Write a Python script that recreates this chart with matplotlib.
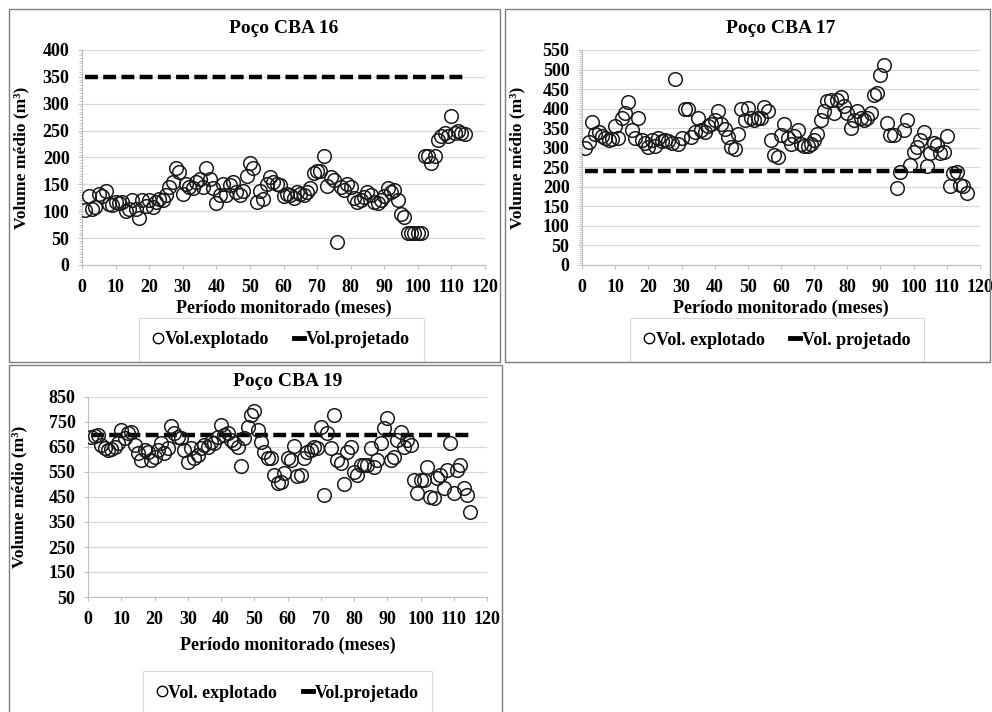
import numpy as np
import matplotlib
matplotlib.use("Agg")
import matplotlib.pyplot as plt
from matplotlib.lines import Line2D
from matplotlib.patches import Rectangle
from matplotlib.ticker import MultipleLocator, AutoMinorLocator

plt.rcParams['font.family'] = ['Liberation Serif', 'DejaVu Serif']
plt.rcParams['font.weight'] = 'bold'
plt.rcParams['axes.labelweight'] = 'bold'
plt.rcParams['axes.titleweight'] = 'bold'

# volumes (m3) read month by month
vol_16 = [103, 128, 105, 108, 133, 128, 138, 113, 112, 117,
          115, 118, 100, 104, 120, 104, 88, 120, 110, 120,
          108, 118, 122, 120, 130, 145, 155, 180, 173, 132,
          150, 145, 143, 155, 160, 145, 180, 160, 143, 115,
          130, 150, 130, 148, 155, 135, 130, 137, 165, 190,
          180, 118, 137, 123, 150, 163, 155, 150, 148, 128,
          132, 130, 125, 135, 133, 130, 135, 143, 172, 175,
          175, 202, 147, 163, 158, 42, 145, 140, 150, 145,
          125, 118, 120, 127, 135, 130, 118, 115, 120, 128,
          143, 135, 140, 120, 95, 90, 60, 60, 60, 60,
          60, 203, 203, 190, 203, 232, 240, 245, 240, 277,
          245, 250, 245, 243]
vol_17 = [300, 315, 365, 335, 340, 330, 325, 320, 322, 355,
          325, 375, 390, 418, 345, 325, 375, 320, 312, 302,
          320, 305, 325, 318, 320, 318, 312, 475, 310, 325,
          400, 400, 328, 340, 375, 345, 340, 355, 360, 372,
          393, 360, 348, 328, 302, 298, 335, 400, 370, 402,
          375, 372, 375, 375, 405, 395, 320, 282, 275, 333,
          360, 325, 310, 330, 346, 310, 305, 305, 310, 320,
          335, 372, 393, 420, 423, 389, 423, 430, 406, 389,
          350, 372, 393, 376, 372, 376, 389, 436, 440, 487,
          512, 363, 333, 333, 197, 239, 346, 372, 256, 290,
          303, 320, 341, 252, 286, 312, 308, 286, 290, 329,
          201, 235, 239, 205, 201, 184]
vol_19 = [690, 695, 700, 660, 645, 638, 643, 652, 665, 720,
          685, 705, 712, 658, 625, 598, 638, 632, 598, 612,
          640, 665, 625, 645, 733, 705, 692, 685, 638, 592,
          645, 605, 618, 645, 658, 652, 672, 665, 692, 738,
          698, 705, 678, 665, 652, 575, 685, 732, 778, 792,
          718, 672, 632, 605, 605, 538, 505, 512, 545, 605,
          600, 653, 533, 540, 605, 632, 638, 652, 645, 732,
          458, 705, 645, 778, 600, 587, 503, 632, 652, 552,
          538, 578, 578, 578, 645, 572, 600, 665, 725, 765,
          600, 612, 678, 712, 652, 678, 658, 518, 465, 518,
          518, 572, 452, 445, 525, 538, 485, 558, 665, 465,
          558, 578, 485, 458, 392]

proj_16 = 350
proj_17 = 240
proj_19 = 700

yticks_16 = np.arange(0, 401, 50)
yticks_17 = np.arange(0, 551, 50)
yticks_19 = np.arange(50, 851, 100)

W, H = 992, 712
fig = plt.figure(figsize=(W / 100, H / 100), dpi=100)
fig.patch.set_facecolor('white')


def px_box(l, t, r, b):
    return [l / W, 1 - b / H, (r - l) / W, (b - t) / H]


# panel frames
for l, t, r, b in [(9, 9, 500, 362), (505, 9, 990, 362), (9, 365, 502, 716)]:
    fig.add_artist(Rectangle((l / W, 1 - b / H), (r - l) / W, (b - t) / H,
                             transform=fig.transFigure, fill=False,
                             edgecolor='#7f7f7f', lw=1.0))


def panel(box, vols, proj, title, yticks, ylab_x, xlab_y, title_pad,
          leg_xy, leg_labels, minor=True):
    ax = fig.add_axes(px_box(*box))
    months = np.arange(1, len(vols) + 1)
    ax.plot(months, vols, 'o', mfc='none', mec='#1a1a1a', ms=9.8, mew=1.1,
            zorder=3)
    ax.plot(months, [proj] * len(months), color='black', lw=3.2,
            ls=(0, (2.9, 1.2)), zorder=2)
    ax.set_xlim(0, 120)
    ax.set_ylim(yticks[0], yticks[-1])
    ax.xaxis.set_major_locator(MultipleLocator(10))
    ax.set_yticks(yticks)
    if minor:
        ax.yaxis.set_minor_locator(AutoMinorLocator(10))
    ax.grid(axis='y', color='#d9d9d9', lw=0.9)
    ax.set_axisbelow(True)
    for s in ['top', 'right']:
        ax.spines[s].set_visible(False)
    for s in ['left', 'bottom']:
        ax.spines[s].set_color('#bfbfbf')
    ax.tick_params(axis='both', which='major', labelsize=13, color='#bfbfbf',
                   length=3)
    ax.tick_params(axis='x', pad=7)
    ax.tick_params(axis='y', pad=6)
    ax.tick_params(axis='y', which='minor', color='#bfbfbf', length=2.5)
    for lab in ax.get_xticklabels() + ax.get_yticklabels():
        lab.set_fontweight('bold')
    ax.set_title(title, fontsize=14, fontweight='bold', pad=title_pad)
    ax.set_ylabel('Volume médio (m³)', fontsize=12.5, fontweight='bold')
    ax.yaxis.set_label_coords(ylab_x, 0.5)
    ax.set_xlabel('Período monitorado (meses)', fontsize=13, fontweight='bold')
    ax.xaxis.set_label_coords(0.5, xlab_y)
    ax.xaxis.label.set_va('center')
    handles = [Line2D([], [], marker='o', mfc='none', mec='black', ms=7.5,
                      mew=1.0, ls='none'),
               Line2D([], [], color='black', lw=3.5)]
    leg = ax.legend(handles, leg_labels, loc='center', bbox_to_anchor=leg_xy,
                    ncol=2, prop={'size': 13, 'weight': 'bold'},
                    handlelength=0.55, handletextpad=0.1, columnspacing=1.4,
                    fancybox=False, edgecolor='#d0d0d0', borderpad=0.75,
                    borderaxespad=0, frameon=True)
    leg.get_frame().set_linewidth(0.8)
    return ax


panel((82, 50, 485, 265), vol_16, proj_16, 'Poço CBA 16', yticks_16,
      -0.13, -0.2, 12, (0.495, -0.347),
      ['Vol.explotado', 'Vol.projetado'])
panel((582, 50, 980, 265), vol_17, proj_17, 'Poço CBA 17', yticks_17,
      -0.143, -0.2, 12, (0.49, -0.35),
      ['Vol. explotado', 'Vol. projetado'])
panel((88, 397, 487, 597), vol_19, proj_19, 'Poço CBA 19', yticks_19,
      -0.153, -0.24, 8, (0.5, -0.48),
      ['Vol. explotado', 'Vol.projetado'], minor=False)

fig.savefig('out.png', dpi=100, facecolor='white')
